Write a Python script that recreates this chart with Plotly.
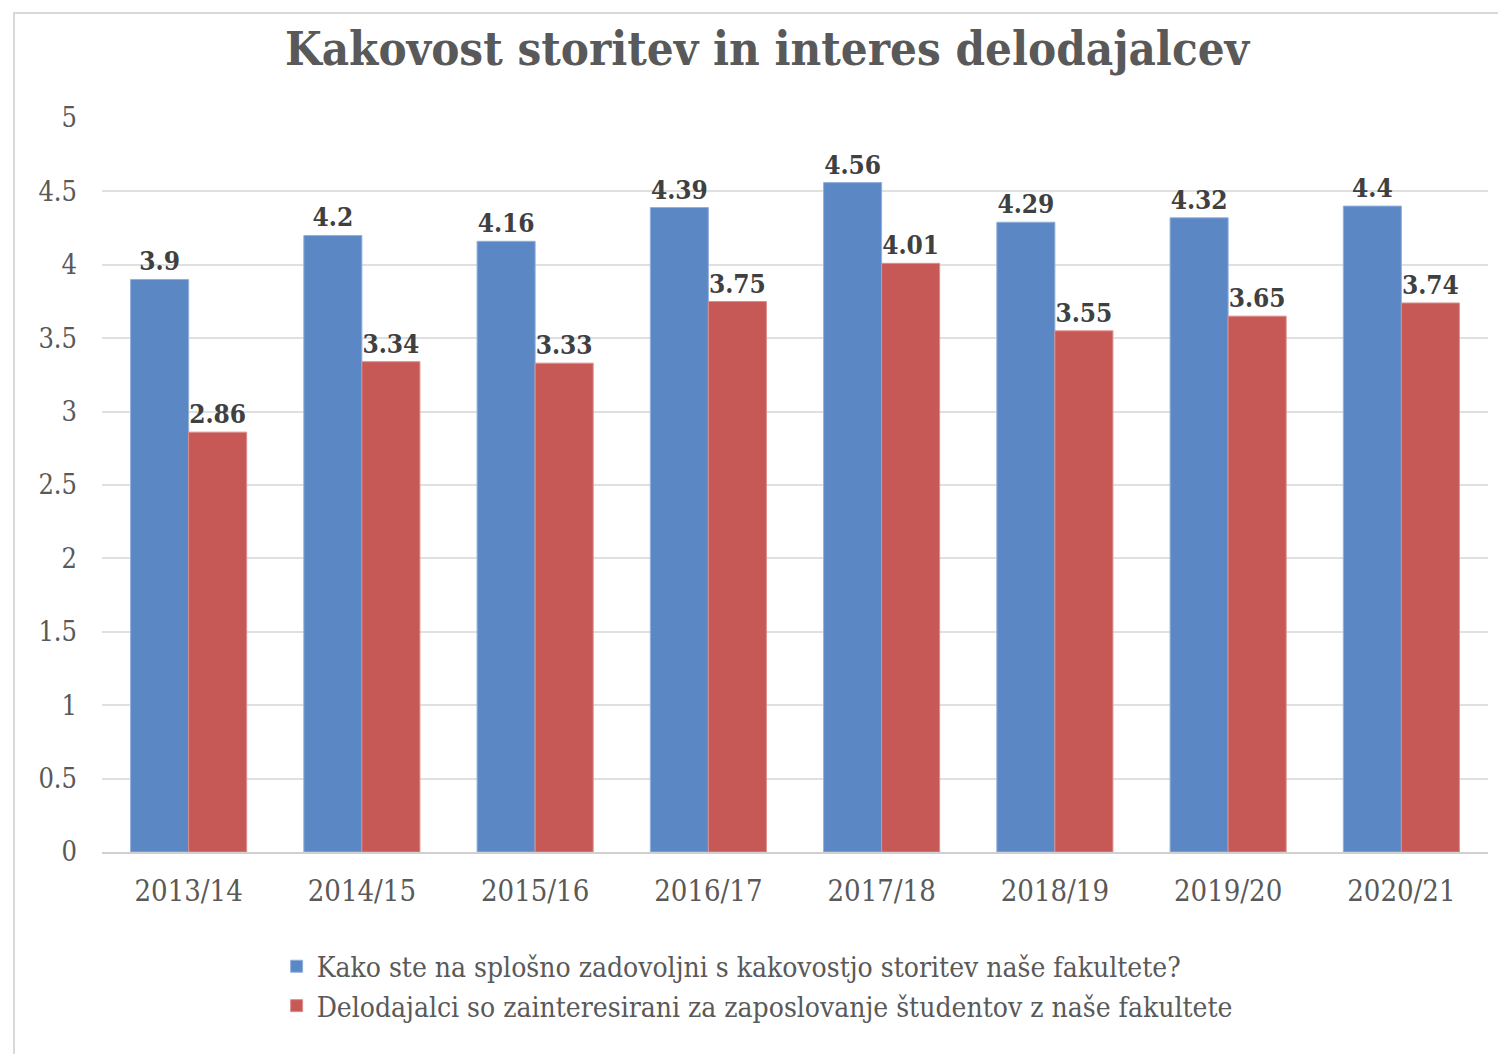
import plotly.graph_objects as go

years = ["2013/14", "2014/15", "2015/16", "2016/17", "2017/18", "2018/19", "2019/20", "2020/21"]
quality = [3.9, 4.2, 4.16, 4.39, 4.56, 4.29, 4.32, 4.4]
employers = [2.86, 3.34, 3.33, 3.75, 4.01, 3.55, 3.65, 3.74]

name_quality = "Kako ste na splošno zadovoljni s kakovostjo storitev naše fakultete?"
name_employers = "Delodajalci so zainteresirani za zaposlovanje študentov z naše fakultete"

serif = "DejaVu Serif Condensed, Liberation Serif, serif"
label_font = dict(family=serif, size=26, color="#404040", weight="bold")

fig = go.Figure()
fig.add_trace(go.Bar(
    x=years, y=quality, name=name_quality,
    marker=dict(color="#5b87c4", line=dict(color="#90b0dc", width=1)),
    text=[str(v) for v in quality], textposition="outside", textfont=label_font,
    cliponaxis=False,
))
fig.add_trace(go.Bar(
    x=years, y=employers, name=name_employers,
    marker=dict(color="#c65956", line=dict(color="#dc8e8c", width=1)),
    text=[str(v) for v in employers], textposition="outside", textfont=label_font,
    cliponaxis=False,
))

fig.update_layout(
    width=1506, height=1054,
    paper_bgcolor="white", plot_bgcolor="white",
    margin=dict(l=94, r=26, t=110, b=210),
    barmode="group", bargap=0.33, bargroupgap=0,
    title=dict(text="<b>Kakovost storitev in interes delodajalcev</b>",
               x=0.504, xanchor="center", y=0.962, yanchor="middle",
               font=dict(family=serif, size=47, color="#595959")),
    font=dict(family=serif, color="#595959"),
    legend=dict(orientation="v", x=0.126, xanchor="left", y=-0.122, yanchor="top",
                font=dict(family=serif, size=28, color="#595959"),
                itemwidth=30, tracegroupgap=0),
)
fig.update_xaxes(tickfont=dict(family=serif, size=29, color="#595959"),
                 showline=True, linecolor="#d0d0d0", linewidth=2, ticks="",
                 ticklabelstandoff=12)
fig.update_yaxes(range=[0, 5], dtick=0.5, tickfont=dict(family=serif, size=27, color="#595959"),
                 showgrid=True, gridcolor="#e0e0e0", gridwidth=2, zeroline=False,
                 ticklabelstandoff=24)
fig.add_shape(type="rect", xref="paper", yref="paper",
              x0=-0.0635, x1=1.03, y0=-0.30, y1=1.143,
              line=dict(color="#d9d9d9", width=2), layer="below")

fig.write_html("out.html")
